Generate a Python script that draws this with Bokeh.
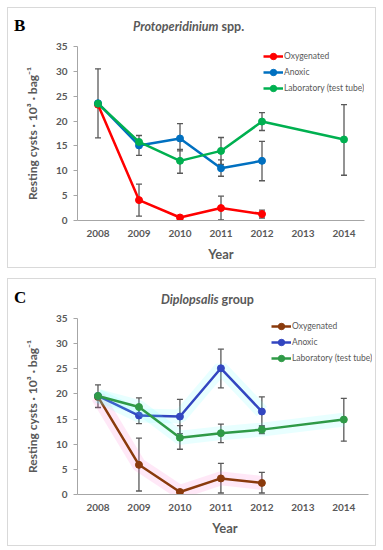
from bokeh.plotting import figure
from bokeh.models import (ColumnDataSource, Whisker, TeeHead, Legend, LegendItem,
                          FixedTicker, Range1d, Div)
from bokeh.layouts import column
from bokeh.embed import file_html
from bokeh.resources import INLINE

# ---------------- data ----------------
years = [2008, 2009, 2010, 2011, 2012, 2013, 2014]
y_ticks = [0, 5, 10, 15, 20, 25, 30, 35]
series_names = ["Oxygenated", "Anoxic", "Laboratory (test tube)"]

# Panel B: Protoperidinium spp.
b_oxy = [23.3, 4.1, 0.6, 2.5, 1.3, None, None]
b_oxy_lo = [None, 0.9, None, 0.1, 0.5, None, None]
b_oxy_hi = [None, 7.3, None, 4.9, 2.1, None, None]
b_anox = [23.6, 15.1, 16.5, 10.5, 12.0, None, None]
b_anox_lo = [None, 13.1, 14.0, 8.9, 8.0, None, None]
b_anox_hi = [None, 17.1, 19.5, 12.2, 15.9, None, None]
b_lab = [23.5, 15.8, 12.0, 14.0, 19.9, None, 16.3]
b_lab_lo = [16.6, None, 9.5, 11.3, 18.1, None, 9.1]
b_lab_hi = [30.5, None, 14.3, 16.7, 21.7, None, 23.3]

# Panel C: Diplopsalis group
c_oxy = [19.4, 5.9, 0.5, 3.2, 2.3, None, None]
c_oxy_lo = [None, 0.7, None, 0.3, 0.3, None, None]
c_oxy_hi = [None, 11.2, None, 6.2, 4.4, None, None]
c_anox = [19.6, 15.7, 15.5, 25.1, 16.5, None, None]
c_anox_lo = [None, 14.1, 12.1, 21.2, 13.5, None, None]
c_anox_hi = [None, 17.3, 18.9, 28.9, 19.4, None, None]
c_lab = [19.6, 17.4, 11.3, 12.2, 12.9, None, 14.9]
c_lab_lo = [17.3, 15.6, 9.0, 10.3, 12.1, None, 10.6]
c_lab_hi = [21.8, 19.2, 13.7, 14.0, 13.7, None, 19.1]

TXT = "#595959"
AX = "#a6a6a6"
ERR = "#595959"
FONT = "Lato"


def xy(vals):
    xs = [yr for yr, v in zip(years, vals) if v is not None]
    ys = [v for v in vals if v is not None]
    return xs, ys


def make_panel(div_h, fig_h, bbot, bright, x_end, letter, title_it, title_rest,
               letter_top, title_left, title_top, series, colors, glow, legend_xy):
    head = Div(width=367, height=div_h, styles={"margin": "0", "padding": "0",
                                                "overflow": "visible"},
               text=(
                   f'<div style="position:relative;width:367px;height:{div_h}px;margin:0;">'
                   f'<span style="position:absolute;left:6px;top:{letter_top}px;'
                   f'font-family:\'Liberation Serif\';font-weight:bold;font-size:17px;'
                   f'line-height:17px;color:#000;">{letter}</span>'
                   f'<span style="position:absolute;left:{title_left}px;top:{title_top}px;'
                   f'font-family:{FONT};font-weight:bold;font-size:12.5px;line-height:15px;'
                   f'color:{TXT};white-space:nowrap;"><i>{title_it}</i> {title_rest}</span>'
                   f'</div>'))

    p = figure(width=367, height=fig_h, output_backend="svg", toolbar_location=None,
               x_range=Range1d(2007.5, x_end), y_range=Range1d(0, 35),
               min_border_left=69, min_border_right=bright,
               min_border_top=7, min_border_bottom=bbot)
    p.outline_line_color = None
    p.xgrid.visible = False
    p.ygrid.visible = False
    p.background_fill_color = "white"
    p.border_fill_color = None

    for ax in (p.xaxis[0], p.yaxis[0]):
        ax.axis_line_color = AX
        ax.major_tick_line_color = AX
        ax.minor_tick_line_color = None
        ax.major_label_text_color = TXT
        ax.major_label_text_font = FONT
        ax.major_label_text_font_style = "bold"
        ax.major_label_text_font_size = "10px"
        ax.axis_label_text_color = TXT
        ax.axis_label_text_font = FONT
        ax.axis_label_text_font_style = "bold"

    p.xaxis.ticker = FixedTicker(ticks=years)
    p.xaxis.bounds = (2007.5, 2014.6)
    p.xaxis.major_tick_out = 0
    p.xaxis.major_tick_in = 0
    p.xaxis.major_label_standoff = 9
    p.xaxis.axis_label = "Year"
    p.xaxis.axis_label_text_font_size = "13px"
    p.xaxis.axis_label_standoff = 6

    p.yaxis.ticker = FixedTicker(ticks=y_ticks)
    p.yaxis.major_tick_out = 4
    p.yaxis.major_tick_in = 0
    p.yaxis.major_label_standoff = 6
    p.yaxis.axis_label = "Resting cysts · 10³ · bag⁻¹"
    p.yaxis.axis_label_text_font_size = "12px"
    p.yaxis.axis_label_standoff = 13

    items = []
    for (vals, lo, hi), col, gl, name in zip(series, colors, glow, series_names):
        xs, ys = xy(vals)
        if gl is not None:
            p.line(xs, ys, line_color=gl, line_width=14, line_alpha=0.15)
        ln = p.line(xs, ys, line_color=col, line_width=2.5)
        sc = p.scatter(xs, ys, size=7, fill_color=col, line_color=col)
        ex = [yr for yr, a in zip(years, lo) if a is not None]
        el = [a for a in lo if a is not None]
        eh = [b for b in hi if b is not None]
        src = ColumnDataSource(dict(x=ex, lower=el, upper=eh))
        w = Whisker(base="x", lower="lower", upper="upper", source=src,
                    line_color=ERR, line_width=1.3,
                    upper_head=TeeHead(size=6, line_color=ERR, line_width=1.3),
                    lower_head=TeeHead(size=6, line_color=ERR, line_width=1.3))
        p.add_layout(w)
        items.append(LegendItem(label=name, renderers=[ln, sc]))

    leg = Legend(items=items, location=legend_xy, border_line_color=None,
                 background_fill_alpha=0, padding=0, margin=0, spacing=0,
                 glyph_width=20, glyph_height=16, label_height=16,
                 label_standoff=1, label_text_font=FONT,
                 label_text_font_size="8.5px", label_text_color=TXT)
    p.add_layout(leg)

    box = column(head, p, spacing=0,
                 styles={"border": "1px solid #d9d9d9", "background": "white"})
    return box


pb = make_panel(31, 228, 47, 11, 2014.5, "B", "Protoperidinium", "spp.", 9, 125, 11,
                [(b_oxy, b_oxy_lo, b_oxy_hi), (b_anox, b_anox_lo, b_anox_hi),
                 (b_lab, b_lab_lo, b_lab_hi)],
                ["#ff0000", "#0070c0", "#00b050"], [None, None, None], (186, 124))

pc = make_panel(32, 234, 51, 3, 2014.7, "C", "Diplopsalis", "group", 10, 153, 13,
                [(c_oxy, c_oxy_lo, c_oxy_hi), (c_anox, c_anox_lo, c_anox_hi),
                 (c_lab, c_lab_lo, c_lab_hi)],
                ["#8a3a0c", "#3346c0", "#2f9a47"], ["#ff66cc", "#66ffff", "#66ffff"],
                (194, 128))

layout = column(pb, pc, spacing=10, styles={"margin-top": "7px", "margin-left": "7px"})
open("out.html", "w").write(file_html(layout, INLINE))
